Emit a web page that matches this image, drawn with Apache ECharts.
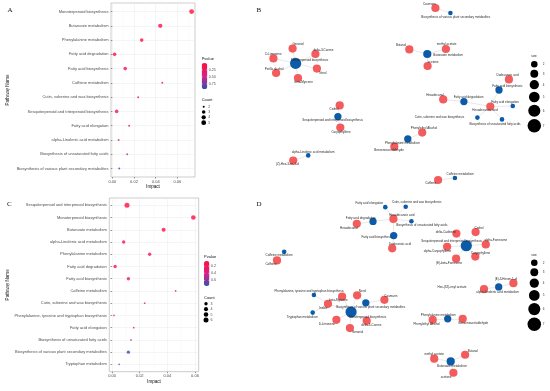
<!DOCTYPE html>
<html><head><meta charset="utf-8">
<script src="https://cdn.jsdelivr.net/npm/echarts@6/dist/echarts.min.js"></script>
<style>html,body{margin:0;padding:0;background:#fff}#c{width:550px;height:391px}</style>
</head><body><div id="c"></div>
<script>
// ---------------- DATA ----------------
// Panel A bubble plot
const pathwaysA = ['Monoterpenoid biosynthesis','Butanoate metabolism','Phenylalanine metabolism','Fatty acid degradation','Fatty acid biosynthesis','Caffeine metabolism','Cutin, suberine and wax biosynthesis','Sesquiterpenoid and triterpenoid biosynthesis','Fatty acid elongation','alpha-Linolenic acid metabolism','Biosynthesis of unsaturated fatty acids','Biosynthesis of various plant secondary metabolites'];
const impactA = [0.0731,0.0442,0.0271,0.0021,0.0119,0.0460,0.0238,0.0040,0.0155,0.0058,0.0137,0.0064];
const pvalueA = [0.005,0.04,0.09,0.08,0.15,0.32,0.33,0.20,0.34,0.42,0.62,0.93];
const countA = [5,4,3,3,3,2,2,3,2,2,2,2];
const countBreaksA = [2,3,4,5];
const pvalueBreaksA = [0.25,0.50,0.75];
const pvalueRangeA = [0.005,0.93];

// Panel C bubble plot
const pathwaysC = ['Sesquiterpenoid and triterpenoid biosynthesis','Monoterpenoid biosynthesis','Butanoate metabolism','alpha-Linolenic acid metabolism','Phenylalanine metabolism','Fatty acid degradation','Fatty acid biosynthesis','Caffeine metabolism','Cutin, suberine and wax biosynthesis','Phenylalanine, tyrosine and tryptophan biosynthesis','Fatty acid elongation','Biosynthesis of unsaturated fatty acids','Biosynthesis of various plant secondary metabolites','Tryptophan metabolism'];
const impactC = [0.0108,0.0588,0.0373,0.0084,0.0272,0.0022,0.0118,0.0460,0.0236,0.0014,0.0157,0.0137,0.0118,0.0051];
const pvalueC = [0.05,0.06,0.09,0.12,0.15,0.14,0.20,0.30,0.33,0.30,0.28,0.50,0.76,0.62];
const countC = [6,5,4,3,3,3,3,2,2,2,2,2,3,2];
const countBreaksC = [3,4,5,6];
const pvalueBreaksC = [0.2,0.4,0.6];
const pvalueRangeC = [0.05,0.76];

const impactTicks = [0,0.02,0.04,0.06];
const impactMinor = [0.01,0.03,0.05,0.07];

// Panel B network (layout units 0-100)
const nodesB = ['Coumarin','Biosynthesis of various plant secondary metabolites','Butanal','Butanoate metabolism','methyl acetate','acetone','Dodecanoic acid','Fatty acid biosynthesis','Hexadecanal','Fatty acid degradation','Hexadecanoic acid','Fatty acid elongation','Cutin, suberine and wax biosynthesis','Biosynthesis of unsaturated fatty acids','Phenylethyl Alcohol','Phenylalanine metabolism','Benzeneacetaldehyde','Caffeine metabolism','Caffeine','Geraniol','delta-3-Carene','D-Limonene','Monoterpenoid biosynthesis','Perilla alcohol','Nerol','beta-Myrcene','Cedrol','Sesquiterpenoid and triterpenoid biosynthesis','Caryophyllene','alpha-Linolenic acid metabolism','(Z)-Hex-3-en-1-ol'];
const layoutXB = [61.8,66.8,53.1,59.1,65.3,59.2,86.3,83.0,64.4,71.3,80.1,87.6,75.8,84.0,57.4,52.6,48.1,68.3,62.7,14.2,21.8,7.8,15.2,8.7,22.3,16.0,29.9,29.3,30.1,19.4,14.4];
const layoutYB = [4.0,6.5,24.7,27.0,24.5,33.0,39.7,45.0,49.7,50.8,53.3,53.0,58.8,59.7,66.3,69.5,73.3,89.0,90.0,24.3,27.0,29.2,31.7,36.5,34.3,39.0,52.7,58.3,63.8,77.7,80.3];
const edgesB = [
 ['Biosynthesis of various plant secondary metabolites','Coumarin'],
 ['Butanoate metabolism','Butanal'],['Butanoate metabolism','methyl acetate'],['Butanoate metabolism','acetone'],
 ['Fatty acid biosynthesis','Dodecanoic acid'],['Fatty acid biosynthesis','Hexadecanoic acid'],
 ['Fatty acid degradation','Hexadecanal'],['Fatty acid degradation','Hexadecanoic acid'],
 ['Fatty acid elongation','Hexadecanoic acid'],['Cutin, suberine and wax biosynthesis','Hexadecanoic acid'],['Biosynthesis of unsaturated fatty acids','Hexadecanoic acid'],
 ['Phenylalanine metabolism','Phenylethyl Alcohol'],['Phenylalanine metabolism','Benzeneacetaldehyde'],
 ['Caffeine metabolism','Caffeine'],
 ['Monoterpenoid biosynthesis','Geraniol'],['Monoterpenoid biosynthesis','delta-3-Carene'],['Monoterpenoid biosynthesis','D-Limonene'],['Monoterpenoid biosynthesis','Perilla alcohol'],['Monoterpenoid biosynthesis','Nerol'],['Monoterpenoid biosynthesis','beta-Myrcene'],
 ['Sesquiterpenoid and triterpenoid biosynthesis','Cedrol'],['Sesquiterpenoid and triterpenoid biosynthesis','Caryophyllene'],
 ['alpha-Linolenic acid metabolism','(Z)-Hex-3-en-1-ol']
];

// Panel D network (layout units 0-100)
const nodesD = ['Fatty acid elongation','Cutin, suberine and wax biosynthesis','Hexadecanoic acid','Fatty acid degradation','Hexadecanal','Biosynthesis of unsaturated fatty acids','Fatty acid biosynthesis','Dodecanoic acid','Caffeine metabolism','Caffeine','delta-Cadinene','Cedrol','Sesquiterpenoid and triterpenoid biosynthesis','alpha-Farnesene','alpha-Caryophyllene','Caryophyllene','(E)-beta-Farnesene','(E)-3-Hexen-1-ol','alpha-Linolenic acid metabolism','Hex-(3Z)-enyl acetate','Phenylalanine metabolism','Phenylethyl Alcohol','Benzeneacetaldehyde','Butanal','methyl acetate','Butanoate metabolism','acetone','Phenylalanine, tyrosine and tryptophan biosynthesis','Tryptophan metabolism','beta-Myrcene','Nerol','Coumarin','Biosynthesis of various plant secondary metabolites','Indole','Monoterpenoid biosynthesis','D-Limonene','delta-3-Carene','Geraniol'];
const layoutXD = [45.1,51.9,47.8,41.0,35.6,53.8,47.9,47.4,11.4,9.0,68.8,75.2,72.1,78.6,65.7,75.1,68.7,87.8,82.9,78.0,65.9,60.9,70.9,71.7,61.4,66.9,67.8,21.3,20.9,30.7,35.7,44.8,38.6,26.0,33.7,28.8,38.9,33.3];
const layoutYD = [6.2,6.0,12.2,13.5,14.7,13.4,20.7,27.2,29.0,33.4,19.7,18.9,25.9,25.2,26.4,31.4,32.5,45.0,46.9,48.0,63.2,63.7,63.2,81.5,83.5,84.9,90.7,51.0,60.0,51.9,51.2,53.5,55.0,55.5,59.7,63.7,64.2,67.9];
const edgesD = [
 ['Fatty acid elongation','Hexadecanoic acid'],['Cutin, suberine and wax biosynthesis','Hexadecanoic acid'],['Biosynthesis of unsaturated fatty acids','Hexadecanoic acid'],
 ['Fatty acid degradation','Hexadecanal'],['Fatty acid degradation','Hexadecanoic acid'],
 ['Fatty acid biosynthesis','Hexadecanoic acid'],['Fatty acid biosynthesis','Dodecanoic acid'],
 ['Caffeine metabolism','Caffeine'],
 ['Sesquiterpenoid and triterpenoid biosynthesis','delta-Cadinene'],['Sesquiterpenoid and triterpenoid biosynthesis','Cedrol'],['Sesquiterpenoid and triterpenoid biosynthesis','alpha-Farnesene'],['Sesquiterpenoid and triterpenoid biosynthesis','alpha-Caryophyllene'],['Sesquiterpenoid and triterpenoid biosynthesis','Caryophyllene'],['Sesquiterpenoid and triterpenoid biosynthesis','(E)-beta-Farnesene'],
 ['alpha-Linolenic acid metabolism','(E)-3-Hexen-1-ol'],['alpha-Linolenic acid metabolism','Hex-(3Z)-enyl acetate'],
 ['Phenylalanine metabolism','Phenylethyl Alcohol'],['Phenylalanine metabolism','Benzeneacetaldehyde'],
 ['Butanoate metabolism','Butanal'],['Butanoate metabolism','methyl acetate'],['Butanoate metabolism','acetone'],
 ['Phenylalanine, tyrosine and tryptophan biosynthesis','Indole'],['Tryptophan metabolism','Indole'],
 ['Monoterpenoid biosynthesis','beta-Myrcene'],['Monoterpenoid biosynthesis','Nerol'],['Monoterpenoid biosynthesis','D-Limonene'],['Monoterpenoid biosynthesis','delta-3-Carene'],['Monoterpenoid biosynthesis','Geraniol'],['Monoterpenoid biosynthesis','Indole'],
 ['Biosynthesis of various plant secondary metabolites','Coumarin'],['Biosynthesis of various plant secondary metabolites','Nerol']
];
const sizeBreaks = [2,3,4,5,6,7];

// ---------------- STYLE ----------------
const FONT = '"Liberation Sans", Arial, sans-serif';
const SERIF = '"Liberation Serif", "Times New Roman", serif';
const RED = '#f35b5c', BLUE = '#0b5ba9';
const GRAD = ['#ff0f3c', '#dc1f86', '#3350b2'];
const labelOffB = {
 'Coumarin':[-6,-3.7],'Biosynthesis of various plant secondary metabolites':[5.4,4],'Butanal':[-8.3,-4.3],'Butanoate metabolism':[20.8,1.3],
 'methyl acetate':[0.7,-4.7],'acetone':[5.6,-4],'Dodecanoic acid':[-1.3,-4],'Fatty acid biosynthesis':[8.3,-4],'Hexadecanal':[-8.3,-4],
 'Fatty acid degradation':[4.7,-4],'Hexadecanoic acid':[-5.3,3.6],'Fatty acid elongation':[-7.7,-4],'Cutin, suberine and wax biosynthesis':[-38,-0.4],
 'Biosynthesis of unsaturated fatty acids':[-7,5],'Phenylethyl Alcohol':[1.7,-4.4],'Phenylalanine metabolism':[-5.4,4.3],'Benzeneacetaldehyde':[-5.3,4],
 'Caffeine metabolism':[5.3,-4],'Caffeine':[-7.3,3.3],'Geraniol':[5.6,-4],'delta-3-Carene':[8,-3.7],'D-Limonene':[0,-4],'Monoterpenoid biosynthesis':[14,-3.3],
 'Perilla alcohol':[-2,-3.7],'Nerol':[6,4.3],'beta-Myrcene':[5.7,4.3],'Cedrol':[-5.7,4],'Sesquiterpenoid and triterpenoid biosynthesis':[-5.3,4],
 'Caryophyllene':[0.7,4.3],'alpha-Linolenic acid metabolism':[5,-3.6],'(Z)-Hex-3-en-1-ol':[-5.6,3.6]
};
const labelOffD = {
 'Fatty acid elongation':[-16,-3.6],'Cutin, suberine and wax biosynthesis':[11,-4.3],'Hexadecanoic acid':[8.4,-3.6],'Fatty acid degradation':[-12.3,-3.7],
 'Hexadecanal':[-8,4],'Biosynthesis of unsaturated fatty acids':[10.4,4],'Fatty acid biosynthesis':[-17,2],'Dodecanoic acid':[7.7,-4],
 'Caffeine metabolism':[-5,3.7],'Caffeine':[-6,4],'delta-Cadinene':[-10.6,-1.6],'Cedrol':[3.3,-4],'Sesquiterpenoid and triterpenoid biosynthesis':[-14.6,-4.4],
 'alpha-Farnesene':[10,-4],'alpha-Caryophyllene':[-9.7,4],'Caryophyllene':[5.4,-3.7],'(E)-beta-Farnesene':[-7,4],'(E)-3-Hexen-1-ol':[-7.6,-4],
 'alpha-Linolenic acid metabolism':[-1,5.3],'Hex-(3Z)-enyl acetate':[-32,-2.3],'Phenylalanine metabolism':[-9.4,-4],'Phenylethyl Alcohol':[-6,4],
 'Benzeneacetaldehyde':[10.6,4],'Butanal':[7.7,-4],'methyl acetate':[0,-4],'Butanoate metabolism':[1.3,4.3],'acetone':[-7.3,4],
 'Phenylalanine, tyrosine and tryptophan biosynthesis':[-4.7,-3.7],'Tryptophan metabolism':[-10.4,4.3],'beta-Myrcene':[-3.7,3],'Nerol':[5.3,-4],
 'Coumarin':[6.4,-3.7],'Biosynthesis of various plant secondary metabolites':[5,4.3],'Indole':[-4.7,4],'Monoterpenoid biosynthesis':[16.5,4.7],
 'D-Limonene':[-9.6,4.4],'delta-3-Carene':[4.6,4],'Geraniol':[7.7,4.3]
};
const pathwayDiam = {2:4.6,3:7.3,4:8.2,5:9.2,6:10.2,7:11.2};
const compoundDiam = 8.2;

function areaSize(c, cmin, cmax, dmin, dmax) {
  const t = Math.max(0, (c - cmin) / (cmax - cmin));
  return dmin + Math.sqrt(t) * (dmax - dmin);
}
const sizeFnA = c => areaSize(c, 2, 5, 2.0, 4.8);
const sizeFnC = c => areaSize(c, 2, 6, 1.7, 5.0);

// ---------------- BUILDERS ----------------
function bubbleAxes(gi, cats, xmin, xmax, nameGapY) {
  const idx = cats.map((_, i) => i + 1);
  const x = {
    gridIndex: gi, type: 'value', min: xmin, max: xmax,
    axisLine: {show: false},
    axisTick: {show: true, customValues: impactTicks, length: 1.5, lineStyle: {color: '#333', width: 0.5}},
    axisLabel: {customValues: impactTicks, formatter: v => v.toFixed(2), fontSize: 4, color: '#4d4d4d', margin: 2.5, fontFamily: FONT},
    splitLine: {show: true, lineStyle: {color: '#ebebeb', width: 0.5}},
    name: 'Impact', nameLocation: 'middle', nameGap: 7.5,
    nameTextStyle: {fontSize: 4.6, color: '#111', fontFamily: FONT}
  };
  const y = {
    gridIndex: gi, type: 'value', min: 0.4, max: cats.length + 0.6, inverse: true,
    axisLine: {show: false},
    axisTick: {show: true, customValues: idx, length: 1.5, lineStyle: {color: '#333', width: 0.5}},
    axisLabel: {customValues: idx, formatter: v => cats[Math.round(v) - 1] || '', fontSize: 4, color: '#4d4d4d', margin: 2.5, fontFamily: FONT},
    splitLine: {show: true, lineStyle: {color: '#ebebeb', width: 0.5}},
    name: 'Pathway Name', nameLocation: 'middle', nameGap: nameGapY, nameRotate: 90,
    nameTextStyle: {fontSize: 4.6, color: '#111', fontFamily: FONT}
  };
  return [x, y];
}

function buildGraph(nodes, lx, ly, edges, pathways, offs, axisIdx) {
  const deg = {};
  edges.forEach(([a, b]) => { deg[a] = (deg[a] || 0) + 1; deg[b] = (deg[b] || 0) + 1; });
  const data = nodes.map((n, i) => {
    const isP = pathways.includes(n);
    return {
      name: n, value: [lx[i], ly[i]],
      symbolSize: isP ? pathwayDiam[Math.min(7, (deg[n] || 1) + 1)] : compoundDiam,
      itemStyle: {color: isP ? BLUE : RED},
      label: {show: true, position: 'inside', offset: offs[n] || [0, -4], fontSize: 3, color: '#2a2a2a', fontFamily: FONT}
    };
  });
  return {
    type: 'graph', coordinateSystem: 'cartesian2d', xAxisIndex: axisIdx, yAxisIndex: axisIdx,
    data, links: edges.map(([a, b]) => ({source: a, target: b})),
    lineStyle: {color: '#d8d8d8', width: 0.6, opacity: 1, curveness: 0},
    emphasis: {disabled: true}, silent: true, animation: false, z: 3
  };
}

// ---------------- OPTION ----------------
const [xA, yA] = bubbleAxes(0, pathwaysA, -0.0012, 0.0762, 101);
const [xC, yC] = bubbleAxes(1, pathwaysC, -0.0020, 0.0627, 99);
const hidden = gi => ({gridIndex: gi, type: 'value', min: 0, max: 100, show: false});
const hiddenY = gi => ({gridIndex: gi, type: 'value', min: 0, max: 100, inverse: true, show: false});

const graphic = [];
function txt(x, y, text, size, opts) {
  opts = opts || {};
  graphic.push({type: 'text', x, y, silent: true, z: 10,
    style: {text, font: (opts.weight || 'normal') + ' ' + size + 'px ' + (opts.family || FONT), fill: opts.fill || '#111',
      align: opts.align || 'left', textAlign: opts.align || 'left', verticalAlign: 'middle', textVerticalAlign: 'middle'}});
}
// panel letters
txt(7.5, 10, 'A', 7, {family: SERIF}); txt(256.5, 10, 'B', 7, {family: SERIF});
txt(7, 204.5, 'C', 7, {family: SERIF}); txt(256.5, 204, 'D', 7, {family: SERIF});

// Pvalue legends
function pvalueLegend(x, top, h, w, range, breaks, digits) {
  txt(x, top - 4.5, 'Pvalue', 4);
  breaks.forEach(b => {
    const y = top + (b - range[0]) / (range[1] - range[0]) * h;
    txt(x + w + 1.5, y, b.toFixed(digits), 3.6, {fill: '#4d4d4d'});
    graphic.push({type: 'line', silent: true, z: 11, shape: {x1: x, y1: y, x2: x + 1.2, y2: y}, style: {stroke: '#fff', lineWidth: 0.4}});
    graphic.push({type: 'line', silent: true, z: 11, shape: {x1: x + w - 1.2, y1: y, x2: x + w, y2: y}, style: {stroke: '#fff', lineWidth: 0.4}});
  });
}
pvalueLegend(201.7, 63, 26, 5.6, pvalueRangeA, pvalueBreaksA, 2);
pvalueLegend(204, 261, 25, 5.4, pvalueRangeC, pvalueBreaksC, 1);

// Count legends
function countLegend(x, titleY, y0, step, breaks, fn) {
  txt(x, titleY, 'Count', 4);
  breaks.forEach((b, i) => {
    const y = y0 + i * step;
    graphic.push({type: 'circle', silent: true, z: 10, shape: {cx: x + 2, cy: y, r: fn(b) / 2}, style: {fill: '#000'}});
    txt(x + 6.5, y, String(b), 3.6, {fill: '#4d4d4d'});
  });
}
countLegend(201.7, 100, 106.7, 5.33, countBreaksA, sizeFnA);
countLegend(204, 297.7, 303.7, 5.43, countBreaksC, sizeFnC);

// size legends
function sizeLegend(x, titleY, y0) {
  txt(x - 3, titleY, 'size', 3);
  let y = y0, prev = null;
  sizeBreaks.forEach(s => {
    const d = 6.5 + (s - 2) * 1.4;
    if (prev !== null) y += (prev + d) / 2 + 2.3;
    graphic.push({type: 'circle', silent: true, z: 10, shape: {cx: x, cy: y, r: d / 2}, style: {fill: '#000'}});
    txt(x + 8.5, y, String(s), 3, {fill: '#333'});
    prev = d;
  });
}
sizeLegend(534.3, 56, 64.3);
sizeLegend(534.3, 255, 262.7);

const option = {
  animation: false,
  backgroundColor: '#fff',
  textStyle: {fontFamily: FONT},
  grid: [
    {left: 111, top: 3, width: 84, height: 174, show: true, borderColor: '#999', borderWidth: 0.5, backgroundColor: 'transparent'},
    {left: 109.3, top: 198, width: 89.4, height: 173.7, show: true, borderColor: '#999', borderWidth: 0.5, backgroundColor: 'transparent'},
    {left: 250, top: 0, width: 300, height: 200},
    {left: 250, top: 195, width: 300, height: 200}
  ],
  xAxis: [xA, xC, hidden(2), hidden(3)],
  yAxis: [yA, yC, hiddenY(2), hiddenY(3)],
  visualMap: [
    {type: 'continuous', seriesIndex: 0, dimension: 2, min: pvalueRangeA[0], max: pvalueRangeA[1], inverse: true,
     inRange: {color: GRAD}, calculable: false, hoverLink: false, left: 201.7, top: 63, itemWidth: 5.6, itemHeight: 26, padding: 0, text: null},
    {type: 'continuous', seriesIndex: 1, dimension: 2, min: pvalueRangeC[0], max: pvalueRangeC[1], inverse: true,
     inRange: {color: GRAD}, calculable: false, hoverLink: false, left: 204, top: 261, itemWidth: 5.4, itemHeight: 25, padding: 0, text: null}
  ],
  series: [
    {type: 'scatter', xAxisIndex: 0, yAxisIndex: 0, z: 5,
     data: pathwaysA.map((p, i) => [impactA[i], i + 1, pvalueA[i], countA[i]]),
     symbolSize: v => sizeFnA(v[3]), encode: {x: 0, y: 1}},
    {type: 'scatter', xAxisIndex: 1, yAxisIndex: 1, z: 5,
     data: pathwaysC.map((p, i) => [impactC[i], i + 1, pvalueC[i], countC[i]]),
     symbolSize: v => sizeFnC(v[3]), encode: {x: 0, y: 1}},
    {type: 'scatter', xAxisIndex: 0, yAxisIndex: 0, data: [], z: 1,
     markLine: {silent: true, symbol: 'none', animation: false, label: {show: false}, lineStyle: {color: '#f4f4f4', width: 0.4, type: 'solid'},
       data: impactMinor.map(v => ({xAxis: v}))}},
    {type: 'scatter', xAxisIndex: 1, yAxisIndex: 1, data: [], z: 1,
     markLine: {silent: true, symbol: 'none', animation: false, label: {show: false}, lineStyle: {color: '#f4f4f4', width: 0.4, type: 'solid'},
       data: impactMinor.filter(v => v < 0.0627).map(v => ({xAxis: v}))}},
    buildGraph(nodesB, layoutXB, layoutYB, edgesB, pathwaysA, labelOffB, 2),
    buildGraph(nodesD, layoutXD, layoutYD, edgesD, pathwaysC, labelOffD, 3)
  ],
  graphic
};

const chart = echarts.init(document.getElementById('c'), null, {renderer: 'canvas', width: 550, height: 391});
chart.setOption(option);
</script>
</body></html>
